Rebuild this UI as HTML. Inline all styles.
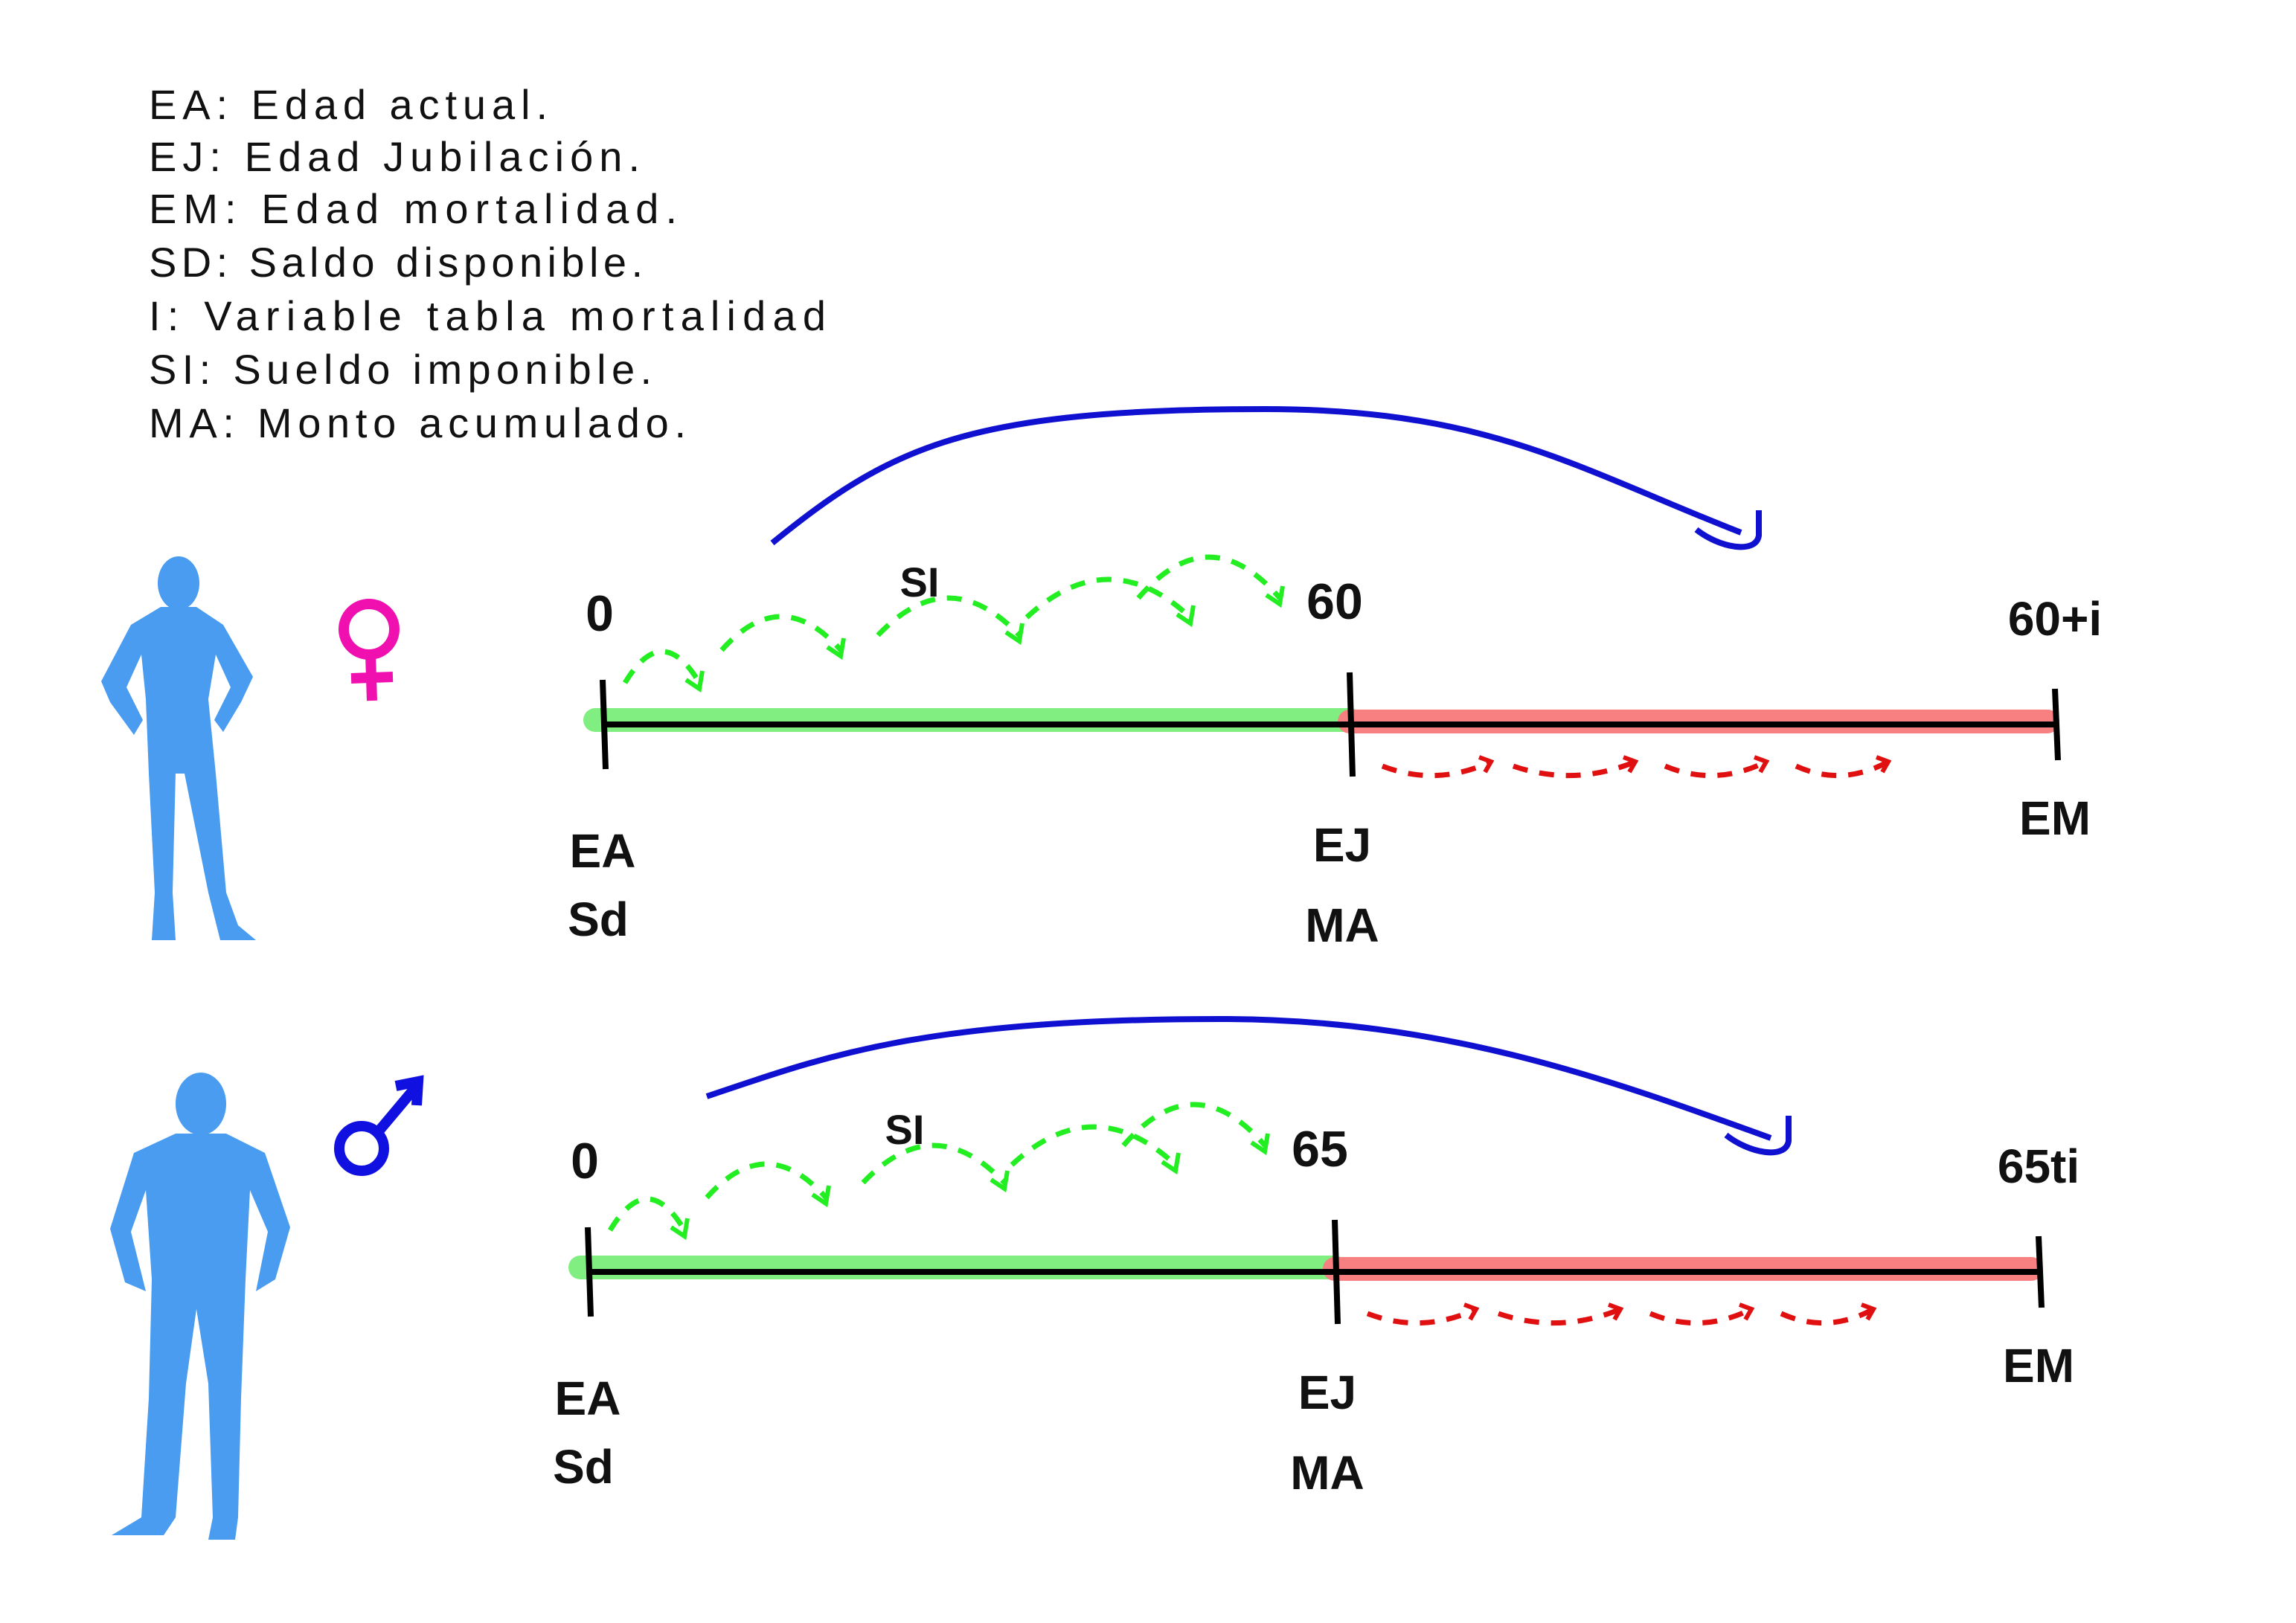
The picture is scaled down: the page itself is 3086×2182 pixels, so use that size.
<!DOCTYPE html>
<html><head><meta charset="utf-8"><style>
html,body{margin:0;padding:0;background:#fff;}
svg{display:block;}
text{font-family:"Liberation Sans",sans-serif;}
</style></head><body>
<svg width="3086" height="2182" viewBox="0 0 1543 1091">
<rect width="1543" height="1091" fill="#fff"/>
<g font-size="28" fill="#111" lengthAdjust="spacing">
<text x="100" y="80" textLength="268">EA: Edad actual.</text>
<text x="100" y="115" textLength="330">EJ: Edad Jubilación.</text>
<text x="100" y="150" textLength="355">EM: Edad mortalidad.</text>
<text x="100" y="186" textLength="332">SD: Saldo disponible.</text>
<text x="100" y="222" textLength="455">I: Variable tabla mortalidad</text>
<text x="100" y="258" textLength="338">SI: Sueldo imponible.</text>
<text x="100" y="294" textLength="361">MA: Monto acumulado.</text>
</g>

<g fill="#4a9cf0">
<ellipse cx="120" cy="392" rx="14" ry="18"/>
<path d="M108,408 L132,408 L150,420 L170,455 L162,472 L150,492 L144,484 L155,462 L145,440 L140,470 L145,520 L152,600 L160,622 L172,632 L148,632 L140,600 L124,520 L118,520 L116,600 L118,632 L102,632 L104,600 L100,520 L98,470 L95,440 L85,462 L96,484 L90,494 L74,472 L68,458 L88,420 Z"/>
</g>
<g fill="none" stroke="#f010b0" stroke-width="7">
<circle cx="248" cy="423" r="17"/>
<line x1="249" y1="440" x2="250" y2="471"/>
<line x1="236" y1="456" x2="264" y2="455"/>
</g>

<g fill="#4a9cf0">
<ellipse cx="135" cy="742" rx="17" ry="21"/>
<path d="M118,762 L152,762 L178,775 L195,825 L185,860 L172,868 L180,828 L168,800 L165,860 L162,940 L160,1020 L158,1035 L140,1035 L143,1020 L140,930 L132,880 L125,930 L118,1020 L110,1032 L75,1032 L95,1020 L100,940 L102,860 L98,800 L88,828 L98,868 L84,862 L74,826 L90,775 Z"/>
</g>
<g fill="none" stroke="#1010e0" stroke-width="7">
<circle cx="243" cy="772" r="15"/>
<line x1="254" y1="761" x2="280" y2="730"/>
<polyline points="266,730 281,727 280,743"/>
</g>

<g id="tl"></g>
</svg>
<script>
const timelineNames=['female-timeline','male-timeline'];
const startLabels=['0','0'];
const retireLabels=['60','65'];
const endLabels=['60+i','65ti'];
const startX=[405,395];
const retireX=[907,897];
const endX=[1381,1370];
const baseY=[487,855];
const arcStartX=[519,475], arcStartY=[365,737];
const arcPeakX=[850,820], arcPeakY=[275,685];
const arcEndX=[1180,1200], arcEndY=[368,775];
const NS='http://www.w3.org/2000/svg';
const root=document.getElementById('tl');
function mk(tag,attrs,parent){const e=document.createElementNS(NS,tag);for(const k in attrs)e.setAttribute(k,attrs[k]);(parent||root).appendChild(e);return e;}
function txt(x,y,s,size,parent,name){const t=mk('text',{x:x,y:y,'font-size':size,'font-weight':'bold','text-anchor':'middle',fill:'#111'},parent);t.textContent=s;


return t;}
for(let i=0;i<2;i++){
 const g=mk('g',{});
 
 
 const y=baseY[i],a=startX[i],b=retireX[i],c=endX[i];
 const green=mk('line',{x1:a-5,y1:y-3,x2:b,y2:y-3,stroke:'#80ee80','stroke-width':16,'stroke-linecap':'round'},g);
 
 
 const red=mk('line',{x1:b,y1:y-2,x2:c-5,y2:y-2,stroke:'#f88080','stroke-width':16,'stroke-linecap':'round'},g);
 
 
 mk('line',{x1:a,y1:y,x2:c,y2:y,stroke:'#000','stroke-width':4},g);
 [[a,30],[b,35],[c,24]].forEach(([x,h])=>{mk('line',{x1:x,y1:y-h,x2:x+2,y2:y+h,stroke:'#000','stroke-width':4},g);});
 txt(a-2,y-63,startLabels[i],34,g,'start-age-label');
 txt(b-10,y-71,retireLabels[i],34,g,'retirement-age-label');
 txt(c,y-60,endLabels[i],32,g,'end-age-label');
 txt(a,y+96,'EA',32,g,'ea-label');
 txt(a-3,y+142,'Sd',32,g,'sd-label');
 txt(b-5,y+92,'EJ',32,g,'ej-label');
 txt(b-5,y+146,'MA',32,g,'ma-label');
 txt(c,y+74,'EM',32,g,'em-label');
 txt(a+213,y-86,'SI',28,g,'si-label');
 const sx=arcStartX[i],sy=arcStartY[i],px=arcPeakX[i],py=arcPeakY[i],ex=arcEndX[i],ey=arcEndY[i];
 const arc=mk('path',{d:`M${sx},${sy} C${sx+80},${py+25} ${px-200},${py} ${px},${py} C${px+150},${py} ${ex-120},${py+40} ${ex-10},${ey-10}`,fill:'none',stroke:'#1010d0','stroke-width':4},g);
 
 
 mk('path',{d:`M${ex-40},${ey-12} C${ex-25},${ey} ${ex},${ey+5} ${ex+2},${ey-8} L${ex+2},${ey-25}`,fill:'none',stroke:'#1010d0','stroke-width':4},g);
 const hops=[[a+15,a+65,y-28,y-45],[a+80,a+160,y-50,y-70],[a+185,a+280,y-60,y-85],[a+285,a+395,y-72,y-98],[a+360,a+455,y-85,y-115]];
 hops.forEach(([x1,x2,y1,pk])=>{
  const h=mk('path',{d:`M${x1},${y1} Q${(x1+x2)/2},${pk-25} ${x2},${y1}`,fill:'none',stroke:'#22ee22','stroke-width':3.5,'stroke-dasharray':'10 8'},g);
  
  
  mk('path',{d:`M${x2-9},${y1-2} L${x2},${y1+4} L${x2+2},${y1-8}`,fill:'none',stroke:'#22ee22','stroke-width':3},g);
 });
 const rh=[[b+22,b+95],[b+110,b+192],[b+212,b+280],[b+300,b+362]];
 rh.forEach(([x1,x2])=>{
  const h=mk('path',{d:`M${x1},${y+28} Q${(x1+x2)/2},${y+42} ${x2},${y+25}`,fill:'none',stroke:'#e01010','stroke-width':3.5,'stroke-dasharray':'10 8'},g);
  
  
  mk('path',{d:`M${x2-8},${y+22} L${x2},${y+25} L${x2-4},${y+32}`,fill:'none',stroke:'#e01010','stroke-width':3},g);
 });
}
</script>
</body></html>
